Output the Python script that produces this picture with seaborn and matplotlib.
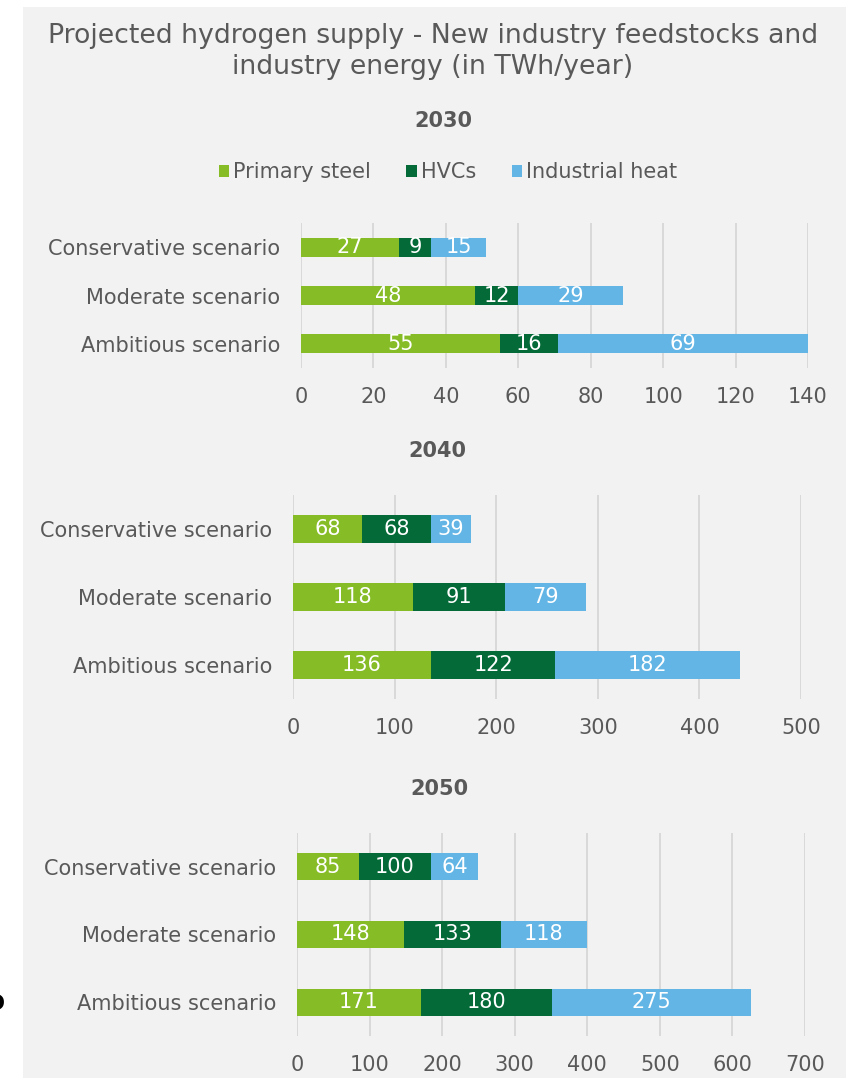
import matplotlib
matplotlib.use("Agg")
import matplotlib.pyplot as plt
import seaborn as sns
import pandas as pd
from matplotlib.patches import Patch, Rectangle

# data (TWh/year)
scenarios = ["Conservative scenario", "Moderate scenario", "Ambitious scenario"]
series_names = ["Primary steel", "HVCs", "Industrial heat"]

steel_2030 = [27, 48, 55]
hvc_2030 = [9, 12, 16]
heat_2030 = [15, 29, 69]

steel_2040 = [68, 118, 136]
hvc_2040 = [68, 91, 122]
heat_2040 = [39, 79, 182]

steel_2050 = [85, 148, 171]
hvc_2050 = [100, 133, 180]
heat_2050 = [64, 118, 275]

ticks_2030 = [0, 20, 40, 60, 80, 100, 120, 140]
ticks_2040 = [0, 100, 200, 300, 400, 500]
ticks_2050 = [0, 100, 200, 300, 400, 500, 600, 700]

colors = ["#86bc25", "#046a38", "#62b5e5"]
TXT = "#595959"
FS = 15
W, H = 859, 1078

sns.set_style("white")
plt.rcParams["font.family"] = ["DejaVu Sans"]

fig = plt.figure(figsize=(W / 100, H / 100), dpi=100)
fig.patch.set_facecolor("white")
fig.patches.append(Rectangle((23 / W, 0), (846 - 23) / W, 1 - 7 / H,
                             transform=fig.transFigure, facecolor="#f2f2f2",
                             edgecolor="none", zorder=-10))


def px_axes(left, right, top, bottom):
    return fig.add_axes([left / W, 1 - bottom / H, (right - left) / W, (bottom - top) / H])


def stacked_panel(ax, steel, hvc, heat, ticks):
    df = pd.DataFrame({"scenario": scenarios, "steel": steel, "hvc": hvc, "heat": heat})
    df["c1"] = df["steel"]
    df["c2"] = df["steel"] + df["hvc"]
    df["c3"] = df["c2"] + df["heat"]
    # draw totals first, then overlay the shorter cumulative bars
    for col, color in zip(["c3", "c2", "c1"], colors[::-1]):
        sns.barplot(data=df, x=col, y="scenario", orient="h", color=color,
                    width=0.4, saturation=1, linewidth=0, ax=ax, zorder=2)
    # value labels in the middle of each segment
    for i, row in df.iterrows():
        starts = [0, row["c1"], row["c2"]]
        for start, val in zip(starts, [row["steel"], row["hvc"], row["heat"]]):
            ax.text(start + val / 2, i, str(val), ha="center", va="center",
                    color="white", fontsize=FS, zorder=3)
    ax.set_xlim(0, ticks[-1])
    ax.set_ylim(2.5, -0.5)
    ax.set_xticks(ticks)
    ax.set_facecolor("none")
    ax.set_axisbelow(True)
    ax.xaxis.grid(True, color="#d9d9d9", lw=1.4)
    ax.yaxis.grid(False)
    for s in ax.spines.values():
        s.set_visible(False)
    ax.tick_params(axis="both", length=0, labelsize=FS, labelcolor=TXT)
    ax.tick_params(axis="x", pad=14)
    ax.tick_params(axis="y", pad=15)
    ax.set_xlabel("")
    ax.set_ylabel("")


ax1 = px_axes(301, 808, 223, 368)
stacked_panel(ax1, steel_2030, hvc_2030, heat_2030, ticks_2030)

ax2 = px_axes(293, 801, 495, 699)
stacked_panel(ax2, steel_2040, hvc_2040, heat_2040, ticks_2040)

ax3 = px_axes(297, 805, 833, 1036)
stacked_panel(ax3, steel_2050, hvc_2050, heat_2050, ticks_2050)

# titles
fig.text(433 / W, 1 - 51.5 / H,
         "Projected hydrogen supply - New industry feedstocks and\nindustry energy (in TWh/year)",
         ha="center", va="center", fontsize=19.3, color=TXT, linespacing=1.23)
for label, x, y in [("2030", 443, 121), ("2040", 437, 451), ("2050", 439, 789)]:
    fig.text(x / W, 1 - y / H, label, ha="center", va="center",
             fontsize=FS, fontweight="bold", color=TXT)

handles = [Patch(facecolor=c, edgecolor="none", label=n) for c, n in zip(colors, series_names)]
fig.legend(handles=handles, loc="center", bbox_to_anchor=(448 / W, 1 - 172 / H), ncol=3,
           frameon=False, fontsize=FS, labelcolor=TXT, handlelength=0.5,
           handleheight=0.5, handletextpad=0.2, columnspacing=1.7)

# stray glyph clipped by the left edge of the original image
fig.text(-5 / W, 1 - 1002 / H, "o", ha="center", va="center", fontsize=20,
         fontweight="bold", color="black")

fig.savefig("out.png", dpi=100, facecolor=fig.get_facecolor())
